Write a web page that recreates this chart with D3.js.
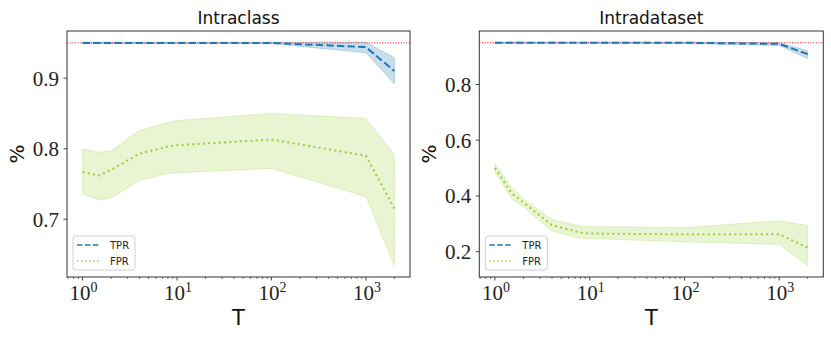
<!DOCTYPE html>
<html>
<head>
<meta charset="utf-8">
<script src="https://cdn.jsdelivr.net/npm/d3@7"></script>
<style>
  html, body { margin: 0; padding: 0; background: #fff; }
  svg { display: block; }
</style>
</head>
<body>
<svg id="chart" width="831" height="337"></svg>
<script>
// ---------- data ----------
const T = [1, 1.5, 2, 4, 8, 10, 100, 1000, 2000];
const xTicks = [1, 10, 100, 1000];
const target = 0.95;

// Intraclass
const intraclassTPR      = [0.950, 0.950, 0.950, 0.950, 0.950, 0.950, 0.950, 0.944, 0.910];
const intraclassTPRUpper = [0.951, 0.951, 0.951, 0.951, 0.951, 0.951, 0.951, 0.951, 0.929];
const intraclassTPRLower = [0.949, 0.949, 0.949, 0.949, 0.949, 0.949, 0.949, 0.936, 0.892];
const intraclassFPR      = [0.767, 0.762, 0.770, 0.793, 0.803, 0.805, 0.813, 0.790, 0.715];
const intraclassFPRUpper = [0.800, 0.795, 0.797, 0.826, 0.837, 0.840, 0.850, 0.843, 0.791];
const intraclassFPRLower = [0.736, 0.727, 0.730, 0.755, 0.765, 0.766, 0.772, 0.732, 0.634];
const intraclassYTicks = [0.7, 0.8, 0.9];

// Intradataset
const intradatasetTPR      = [0.950, 0.950, 0.950, 0.950, 0.950, 0.950, 0.950, 0.946, 0.909];
const intradatasetTPRUpper = [0.952, 0.952, 0.952, 0.952, 0.952, 0.952, 0.952, 0.950, 0.921];
const intradatasetTPRLower = [0.948, 0.948, 0.948, 0.948, 0.948, 0.948, 0.947, 0.940, 0.893];
const intradatasetFPR      = [0.500, 0.410, 0.376, 0.295, 0.268, 0.265, 0.262, 0.262, 0.214];
const intradatasetFPRUpper = [0.517, 0.430, 0.390, 0.315, 0.292, 0.290, 0.286, 0.311, 0.294];
const intradatasetFPRLower = [0.486, 0.390, 0.360, 0.274, 0.248, 0.247, 0.235, 0.226, 0.149];
const intradatasetYTicks = [0.2, 0.4, 0.6, 0.8];

const panels = [
  { title: "Intraclass", x0: 67, x1: 410, tpr: intraclassTPR, tprU: intraclassTPRUpper, tprL: intraclassTPRLower,
    fpr: intraclassFPR, fprU: intraclassFPRUpper, fprL: intraclassFPRLower, yTicks: intraclassYTicks },
  { title: "Intradataset", x0: 479.3, x1: 823.3, tpr: intradatasetTPR, tprU: intradatasetTPRUpper, tprL: intradatasetTPRLower,
    fpr: intradatasetFPR, fprU: intradatasetFPRUpper, fprL: intradatasetFPRLower, yTicks: intradatasetYTicks }
];

// ---------- style ----------
const y0 = 31, y1 = 277;
const blue = "#1f77b4", blueFill = "rgba(31,119,180,0.24)";
const green = "#9acd32", greenFill = "rgba(154,205,50,0.22)";
const serif = "'Liberation Serif', 'DejaVu Serif', serif";
const sans = "'DejaVu Sans', sans-serif";

const svg = d3.select("#chart");

panels.forEach((p, pi) => {
  const lx0 = Math.log10(d3.min(T)), lx1 = Math.log10(d3.max(T));
  const padX = (lx1 - lx0) * 0.05;
  const x = d3.scaleLog().domain([Math.pow(10, lx0 - padX), Math.pow(10, lx1 + padX)]).range([p.x0, p.x1]);
  const allY = [...p.tprU, ...p.tprL, ...p.fprU, ...p.fprL, target];
  const ymin = d3.min(allY), ymax = d3.max(allY);
  const padY = (ymax - ymin) * 0.05;
  const y = d3.scaleLinear().domain([ymin - padY, ymax + padY]).range([y1, y0]);

  const g = svg.append("g");
  const clipId = "clip" + pi;
  g.append("clipPath").attr("id", clipId).append("rect")
    .attr("x", p.x0).attr("y", y0).attr("width", p.x1 - p.x0).attr("height", y1 - y0);
  const plot = g.append("g").attr("clip-path", `url(#${clipId})`);

  const area = (U, L) => d3.area().x((d, i) => x(T[i])).y0((d, i) => y(L[i])).y1((d, i) => y(U[i]))(T);
  const line = (V) => d3.line().x((d, i) => x(T[i])).y((d, i) => y(V[i]))(T);

  // bands
  plot.append("path").attr("d", area(p.tprU, p.tprL)).attr("fill", blueFill).attr("stroke", blueFill).attr("stroke-width", 1);
  plot.append("path").attr("d", area(p.fprU, p.fprL)).attr("fill", greenFill).attr("stroke", greenFill).attr("stroke-width", 1);

  // target line
  plot.append("line").attr("x1", p.x0).attr("x2", p.x1).attr("y1", y(target)).attr("y2", y(target))
    .attr("stroke", "red").attr("stroke-width", 1).attr("stroke-dasharray", "1,1.65");

  // mean lines
  plot.append("path").attr("d", line(p.tpr)).attr("fill", "none").attr("stroke", blue)
    .attr("stroke-width", 2).attr("stroke-dasharray", "7.4,3.2");
  plot.append("path").attr("d", line(p.fpr)).attr("fill", "none").attr("stroke", green)
    .attr("stroke-width", 2).attr("stroke-dasharray", "2,3.3");

  // frame
  g.append("rect").attr("x", p.x0).attr("y", y0).attr("width", p.x1 - p.x0).attr("height", y1 - y0)
    .attr("fill", "none").attr("stroke", "#333").attr("stroke-width", 1);

  // x axis: minor ticks
  const [d0, d1] = x.domain();
  const minor = [];
  for (let e = Math.floor(Math.log10(d0)); e <= Math.ceil(Math.log10(d1)); e++) {
    for (let m = 2; m <= 9; m++) {
      const v = m * Math.pow(10, e);
      if (v >= d0 && v <= d1) minor.push(v);
    }
  }
  g.selectAll(".minor").data(minor).enter().append("line")
    .attr("x1", d => x(d)).attr("x2", d => x(d)).attr("y1", y1).attr("y2", y1 + 2)
    .attr("stroke", "#333").attr("stroke-width", 0.7);
  g.selectAll(".major").data(xTicks).enter().append("line")
    .attr("x1", d => x(d)).attr("x2", d => x(d)).attr("y1", y1).attr("y2", y1 + 3.5)
    .attr("stroke", "#333").attr("stroke-width", 0.9);
  const xl = g.selectAll(".xl").data(xTicks).enter().append("text")
    .attr("x", d => x(d) + 1).attr("y", 300).attr("text-anchor", "middle")
    .attr("font-family", serif).attr("font-size", 21).attr("fill", "#222");
  xl.append("tspan").text("10");
  xl.append("tspan").attr("dy", -8).attr("font-size", 14).text(d => Math.round(Math.log10(d)));

  // y axis
  g.selectAll(".ytick").data(p.yTicks).enter().append("line")
    .attr("x1", p.x0 - 3.5).attr("x2", p.x0).attr("y1", d => y(d)).attr("y2", d => y(d))
    .attr("stroke", "#333").attr("stroke-width", 0.9);
  g.selectAll(".yl").data(p.yTicks).enter().append("text")
    .attr("x", p.x0 - 8).attr("y", d => y(d)).attr("dy", "0.36em").attr("text-anchor", "end")
    .attr("font-family", serif).attr("font-size", 21).attr("fill", "#222")
    .text(d => d3.format(".1f")(d));

  // labels
  const cx = (p.x0 + p.x1) / 2;
  g.append("text").attr("x", cx).attr("y", 24).attr("text-anchor", "middle")
    .attr("font-family", sans).attr("font-size", 17).attr("fill", "#111").text(p.title);
  g.append("text").attr("x", cx).attr("y", 325).attr("text-anchor", "middle")
    .attr("font-family", sans).attr("font-size", 21).attr("fill", "#111").text("T");
  g.append("text").attr("transform", `translate(${p.x0 - 43},${(y0 + y1) / 2}) rotate(-90)`)
    .attr("text-anchor", "middle").attr("font-family", sans).attr("font-size", 20).attr("fill", "#111").text("%");

  // legend
  const lgx = p.x0 + 6, lgy = 236;
  const lg = g.append("g");
  lg.append("rect").attr("x", lgx).attr("y", lgy).attr("width", 62).attr("height", 34).attr("rx", 3)
    .attr("fill", "rgba(255,255,255,0.85)").attr("stroke", "#d0d0d0").attr("stroke-width", 1);
  const items = [
    { name: "TPR", color: blue, dash: "5.5,2.4" },
    { name: "FPR", color: green, dash: "1.5,2.5" }
  ];
  items.forEach((it, i) => {
    const yy = lgy + 9 + i * 16;
    lg.append("line").attr("x1", lgx + 4).attr("x2", lgx + 27).attr("y1", yy).attr("y2", yy)
      .attr("stroke", it.color).attr("stroke-width", 1.5).attr("stroke-dasharray", it.dash);
    lg.append("text").attr("x", lgx + 37).attr("y", yy).attr("dy", "0.36em")
      .attr("font-family", sans).attr("font-size", 10).attr("fill", "#222").text(it.name);
  });
});
</script>
</body>
</html>
